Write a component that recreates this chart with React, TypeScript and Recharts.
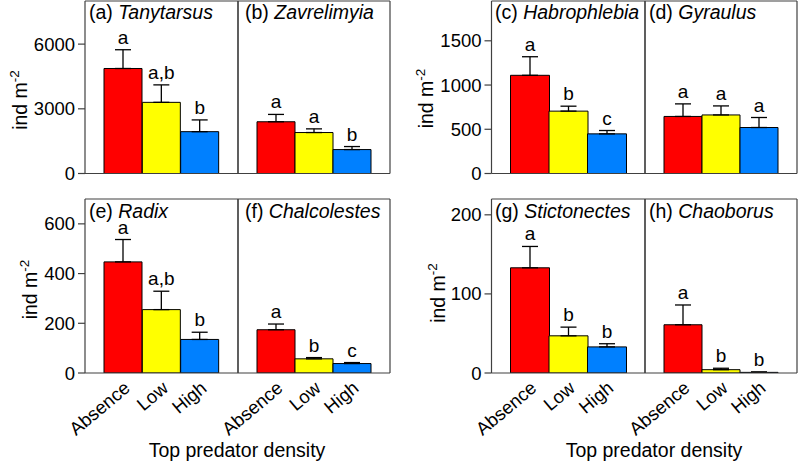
import React from 'react';
import { ComposedChart, Bar, XAxis, YAxis, ErrorBar, Cell, LabelList } from 'recharts';

const FONT = '"Liberation Sans", Arial, Helvetica, sans-serif';
const FRAME = '#404040';

const categories = ['Absence', 'Low', 'High'];
const barColors = ['#ff0000', '#ffff00', '#0080ff'];

// (a) Tanytarsus
const tanytarsus = [4870, 3300, 1940];
const tanytarsusSE = [870, 810, 545];
const tanytarsusSig = ['a', 'a,b', 'b'];
// (b) Zavrelimyia
const zavrelimyia = [2400, 1900, 1110];
const zavrelimyiaSE = [340, 170, 140];
const zavrelimyiaSig = ['a', 'a', 'b'];
// (c) Habrophlebia
const habrophlebia = [1110, 705, 448];
const habrophlebiaSE = [210, 56, 38];
const habrophlebiaSig = ['a', 'b', 'c'];
// (d) Gyraulus
const gyraulus = [645, 662, 520];
const gyraulusSE = [142, 102, 113];
const gyraulusSig = ['a', 'a', 'a'];
// (e) Radix
const radix = [447, 255, 135];
const radixSE = [90, 74, 29];
const radixSig = ['a', 'a,b', 'b'];
// (f) Chalcolestes
const chalcolestes = [174, 57, 38];
const chalcolestesSE = [23, 5, 4];
const chalcolestesSig = ['a', 'b', 'c'];
// (g) Stictonectes
const stictonectes = [133, 47, 33];
const stictonectesSE = [27, 11, 4];
const stictonectesSig = ['a', 'b', 'b'];
// (h) Chaoborus
const chaoborus = [61, 4.2, 0.8];
const chaoborusSE = [25, 1.8, 0.6];
const chaoborusSig = ['a', 'b', 'b'];

const ticksTL = [0, 3000, 6000];
const ticksTR = [0, 500, 1000, 1500];
const ticksBL = [0, 200, 400, 600];
const ticksBR = [0, 100, 200];

const domainTL: [number, number] = [0, 8000];
const domainTR: [number, number] = [0, 1950];
const domainBL: [number, number] = [0, 700];
const domainBR: [number, number] = [0, 220];

type Row = { cat: string; value: number; err: [number, number]; sig: string };

const buildRows = (values: number[], errors: number[], sig: string[]): Row[] =>
  categories.map((c, i) => ({ cat: c, value: values[i], err: [0, errors[i]], sig: sig[i] }));

const RotTick = (props: any) => {
  const { x, y, payload } = props;
  const ax = x + 8;
  const ay = y + 17;
  return (
    <text
      x={ax}
      y={ay}
      transform={`rotate(-40 ${ax} ${ay})`}
      textAnchor="end"
      fontSize={18.5}
      fontFamily={FONT}
      fill="#000"
    >
      {payload.value}
    </text>
  );
};

type PanelProps = {
  rows: Row[];
  domain: [number, number];
  ticks: number[];
  plotX: number;
  plotY: number;
  plotW: number;
  plotH: number;
  yAxisW: number; // 0 = no visible y axis
  bottomRow: boolean;
};

function Panel({ rows, domain, ticks, plotX, plotY, plotW, plotH, yAxisW, bottomRow }: PanelProps) {
  const hasY = yAxisW > 0;
  const leftMargin = hasY ? 0 : 60;
  const plotLeft = hasY ? yAxisW : leftMargin + 1;
  const xH = bottomRow ? 90 : 14;
  const width = plotLeft + plotW + 2;
  const height = 2 + plotH + xH;
  const left = plotX - plotLeft;
  const top = plotY - 2;

  const sigContent = (p: any) => {
    const { x, y, width: w, height: h, index } = p;
    const r = rows[index];
    if (!r) return null;
    const ppu = Math.abs(h) / r.value;
    const errTop = y - r.err[1] * ppu;
    return (
      <text
        x={x + w / 2}
        y={errTop - 6}
        textAnchor="middle"
        fontSize={19}
        fontFamily={FONT}
        fill="#000"
      >
        {r.sig}
      </text>
    );
  };

  return (
    <div style={{ position: 'absolute', left, top, width, height }}>
      <ComposedChart
        width={width}
        height={height}
        data={rows}
        margin={{ top: 1, right: 1, left: leftMargin, bottom: 0 }}
        barCategoryGap={0}
        barGap={0}
      >
        <XAxis
          dataKey="cat"
          type="category"
          padding={{ left: 19, right: 19 }}
          height={xH}
          axisLine={{ stroke: FRAME, strokeWidth: 1.2 }}
          tickLine={false}
          tickSize={0}
          tickMargin={0}
          interval={0}
          tick={bottomRow ? <RotTick /> : false}
        />
        <XAxis
          xAxisId="top"
          dataKey="cat"
          orientation="top"
          height={1}
          axisLine={{ stroke: FRAME, strokeWidth: 1.2 }}
          tickLine={false}
          tick={false}
        />
        <YAxis
          type="number"
          domain={domain}
          ticks={ticks}
          width={hasY ? yAxisW : 1}
          axisLine={{ stroke: FRAME, strokeWidth: 1.2 }}
          tickLine={hasY ? { stroke: FRAME, strokeWidth: 1.2 } : false}
          tickSize={hasY ? 7 : 0}
          tickMargin={3}
          tick={hasY ? { fill: '#000', fontSize: 18.5, fontFamily: FONT } : false}
          interval={0}
          allowDataOverflow
        />
        <YAxis
          yAxisId="right"
          orientation="right"
          type="number"
          domain={domain}
          width={1}
          axisLine={{ stroke: FRAME, strokeWidth: 1.2 }}
          tickLine={false}
          tick={false}
        />
        <Bar dataKey="value" stroke="#000" strokeWidth={1} isAnimationActive={false}>
          {rows.map((r, i) => (
            <Cell key={r.cat} fill={barColors[i]} />
          ))}
          <ErrorBar dataKey="err" direction="y" width={8} stroke="#000" strokeWidth={1.3} />
          <LabelList dataKey="sig" content={sigContent} />
        </Bar>
      </ComposedChart>
    </div>
  );
}

const PanelTitle = ({ x, y, letter, name }: { x: number; y: number; letter: string; name: string }) => (
  <text x={x} y={y} fontSize={19.5} fontFamily={FONT} fill="#000" style={{ whiteSpace: 'pre' }}>
    {`(${letter}) `}
    <tspan fontStyle="italic">{name}</tspan>
  </text>
);

const YLabel = ({ x, y }: { x: number; y: number }) => (
  <text
    transform={`translate(${x} ${y}) rotate(-90)`}
    textAnchor="middle"
    fontSize={19.5}
    fontFamily={FONT}
    fill="#000"
    style={{ whiteSpace: 'pre' }}
  >
    {'ind m'}
    <tspan dy={-8} fontSize={13.5}>
      -2
    </tspan>
  </text>
);

export default function App() {
  const topY = 1;
  const topH = 172.5;
  const botY = 199;
  const botH = 174;
  return (
    <div style={{ position: 'absolute', left: 0, top: 0, width: 799, height: 464, background: '#fff', overflow: 'hidden' }}>
      <Panel rows={buildRows(tanytarsus, tanytarsusSE, tanytarsusSig)} domain={domainTL} ticks={ticksTL}
        plotX={85} plotY={topY} plotW={153} plotH={topH} yAxisW={85} bottomRow={false} />
      <Panel rows={buildRows(zavrelimyia, zavrelimyiaSE, zavrelimyiaSig)} domain={domainTL} ticks={ticksTL}
        plotX={238} plotY={topY} plotW={152} plotH={topH} yAxisW={0} bottomRow={false} />
      <Panel rows={buildRows(habrophlebia, habrophlebiaSE, habrophlebiaSig)} domain={domainTR} ticks={ticksTR}
        plotX={491.5} plotY={topY} plotW={153.5} plotH={topH} yAxisW={91.5} bottomRow={false} />
      <Panel rows={buildRows(gyraulus, gyraulusSE, gyraulusSig)} domain={domainTR} ticks={ticksTR}
        plotX={645} plotY={topY} plotW={152} plotH={topH} yAxisW={0} bottomRow={false} />

      <Panel rows={buildRows(radix, radixSE, radixSig)} domain={domainBL} ticks={ticksBL}
        plotX={85} plotY={botY} plotW={153} plotH={botH} yAxisW={85} bottomRow />
      <Panel rows={buildRows(chalcolestes, chalcolestesSE, chalcolestesSig)} domain={domainBL} ticks={ticksBL}
        plotX={238} plotY={botY} plotW={152} plotH={botH} yAxisW={0} bottomRow />
      <Panel rows={buildRows(stictonectes, stictonectesSE, stictonectesSig)} domain={domainBR} ticks={ticksBR}
        plotX={491.5} plotY={botY} plotW={153.5} plotH={botH} yAxisW={91.5} bottomRow />
      <Panel rows={buildRows(chaoborus, chaoborusSE, chaoborusSig)} domain={domainBR} ticks={ticksBR}
        plotX={645} plotY={botY} plotW={152} plotH={botH} yAxisW={0} bottomRow />

      <svg width={799} height={464} style={{ position: 'absolute', left: 0, top: 0, pointerEvents: 'none' }}>
        <PanelTitle x={89} y={topY + 17.5} letter="a" name="Tanytarsus" />
        <PanelTitle x={245} y={topY + 17.5} letter="b" name="Zavrelimyia" />
        <PanelTitle x={495} y={topY + 17.5} letter="c" name="Habrophlebia" />
        <PanelTitle x={649} y={topY + 17.5} letter="d" name="Gyraulus" />
        <PanelTitle x={89} y={botY + 18.5} letter="e" name="Radix" />
        <PanelTitle x={245} y={botY + 18.5} letter="f" name="Chalcolestes" />
        <PanelTitle x={495} y={botY + 18.5} letter="g" name="Stictonectes" />
        <PanelTitle x={649} y={botY + 18.5} letter="h" name="Chaoborus" />

        <YLabel x={27} y={100} />
        <YLabel x={433} y={98.5} />
        <YLabel x={37} y={289.5} />
        <YLabel x={445} y={293} />

        <text x={237} y={456.5} textAnchor="middle" fontSize={19.5} fontFamily={FONT} fill="#000">
          Top predator density
        </text>
        <text x={654} y={456.5} textAnchor="middle" fontSize={19.5} fontFamily={FONT} fill="#000">
          Top predator density
        </text>
      </svg>
    </div>
  );
}
